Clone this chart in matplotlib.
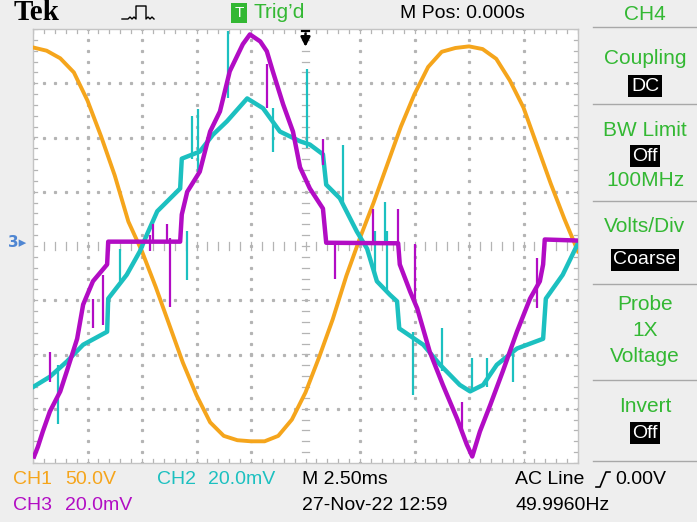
"""
Recreation of a Tektronix scope screenshot: CH1 line voltage with two
current-sense channels (CH2, CH3) at 2.5 ms/div.
"""

import matplotlib

matplotlib.use("Agg")
import matplotlib.pyplot as plt
import numpy as np
from matplotlib.lines import Line2D

W, H = 697, 522

ORANGE = "#f5a51c"
CYAN = "#1cc0c0"
MAGENTA = "#b20cc4"
GREEN = "#33b833"
GRID = "#b4b4b4"

# all trace values in screen divisions (x: 0..10, y: -4..4)
ch1_t = [0.00, 0.25, 0.50, 0.75, 1.00, 1.25, 1.50, 1.75, 2.00, 2.25, 2.50,
         2.75, 3.00, 3.25, 3.50, 3.75, 4.00, 4.25, 4.50, 4.75, 5.00, 5.25,
         5.50, 5.75, 6.00, 6.25, 6.50, 6.75, 7.00, 7.25, 7.50, 7.75, 8.00,
         8.25, 8.50, 8.75, 9.00, 9.25, 9.50, 9.75, 10.00]
ch1_v = [3.66, 3.60, 3.46, 3.20, 2.68, 2.02, 1.30, 0.45, -0.10, -0.75, -1.45,
         -2.15, -2.75, -3.25, -3.50, -3.58, -3.60, -3.60, -3.50, -3.20, -2.70,
         -2.05, -1.35, -0.55, 0.15, 0.80, 1.50, 2.20, 2.80, 3.30, 3.58, 3.65,
         3.68, 3.63, 3.45, 3.05, 2.55, 1.85, 1.15, 0.50, -0.10]

ch2_t = [0.00, 0.31, 0.62, 0.92, 1.36, 1.38, 1.72, 1.96, 2.09, 2.28, 2.70,
         2.73, 3.06, 3.30, 3.56, 3.93, 4.22, 4.53, 4.90, 5.08, 5.32, 5.38,
         5.63, 5.94, 6.13, 6.31, 6.55, 6.68, 6.72, 7.16, 7.47, 7.83, 8.02,
         8.26, 8.51, 8.88, 9.36, 9.41, 9.72, 10.00]
ch2_v = [-2.60, -2.41, -2.13, -1.82, -1.58, -0.97, -0.53, -0.10, 0.21, 0.64,
         1.06, 1.61, 1.74, 2.05, 2.30, 2.72, 2.54, 2.11, 1.93, 1.87, 1.69,
         1.13, 0.88, 0.27, -0.05, -0.65, -0.90, -1.02, -1.52, -1.82, -2.19,
         -2.56, -2.68, -2.56, -2.19, -1.89, -1.71, -0.97, -0.53, 0.05]

ch3_t = [0.02, 0.09, 0.18, 0.31, 0.50, 0.62, 0.81, 0.92, 1.10, 1.36, 1.38,
         2.70, 2.73, 2.83, 3.06, 3.25, 3.43, 3.61, 3.85, 3.98, 4.17, 4.29,
         4.40, 4.59, 4.77, 4.90, 5.08, 5.32, 5.38, 6.70, 6.73, 6.92, 7.05,
         7.28, 7.52, 7.78, 7.96, 8.06, 8.20, 8.39, 8.62, 8.88, 9.12, 9.30,
         9.36, 9.39, 10.00]
ch3_v = [-3.88, -3.70, -3.42, -3.05, -2.68, -2.31, -1.71, -1.08, -0.65, -0.34,
         0.08, 0.08, 0.58, 1.00, 1.37, 2.11, 2.48, 3.22, 3.72, 3.90, 3.77,
         3.59, 3.22, 2.61, 2.11, 1.45, 1.06, 0.69, 0.06, 0.05, -0.34, -0.84,
         -1.15, -1.95, -2.56, -3.18, -3.66, -3.88, -3.42, -2.93, -2.31, -1.58,
         -0.97, -0.65, -0.34, 0.12, 0.10]

# switching spikes: x position, top, bottom (divisions)
ch2_spike_t = [0.46, 1.60, 2.83, 2.92, 3.03, 3.58, 4.40, 5.03, 5.69, 6.28,
               6.46, 6.50, 6.97, 7.50, 8.06, 8.33, 8.81]
ch2_spike_hi = [-2.19, -0.05, 0.27, 2.39, 2.52, 3.96, 2.54, 3.27, 1.87, 0.27,
                0.82, 0.27, -1.58, -1.52, -2.07, -2.07, -1.89]
ch2_spike_lo = [-3.29, -0.65, -0.62, 1.61, 1.37, 2.72, 1.74, 1.80, 0.77, -0.53,
                0.03, -0.84, -2.74, -2.31, -2.68, -2.59, -2.50]

ch3_spike_t = [0.31, 1.10, 1.28, 2.15, 2.20, 2.46, 2.51, 4.29, 5.32, 5.54,
               6.24, 6.70, 7.01, 7.87, 9.25]
ch3_spike_hi = [-1.95, -0.97, -0.53, 0.21, 0.40, 0.40, 0.14, 3.35, 1.98, 0.03,
                0.69, 0.69, 0.03, -2.87, -0.23]
ch3_spike_lo = [-2.50, -1.52, -1.45, -0.10, 0.08, 0.08, -1.12, 2.54, 1.50, -0.60,
                0.03, 0.03, -0.97, -3.42, -1.15]


def px(x, y):
    return x / W, 1 - y / H


def ftext(fig, x, y, s, color, size=14, ha="left", box=False, **kw):
    t = fig.text(*px(x, y), s, color=color, fontsize=size, ha=ha, va="center", **kw)
    if box:
        t.set_bbox(dict(facecolor="black", edgecolor="none", pad=2.0))
    return t


def fline(fig, xs, ys, color, lw=1.0):
    fig.add_artist(Line2D([x / W for x in xs], [1 - y / H for y in ys],
                          color=color, lw=lw, transform=fig.transFigure))


def draw_graticule(ax):
    fine = np.arange(0, 10.001, 0.2)
    fine_y = np.arange(-4, 4.001, 0.2)
    for gx in range(1, 10):
        if gx != 5:
            ax.plot(np.full_like(fine_y, gx), fine_y, ls="none", marker="s",
                    ms=1.3, color=GRID, zorder=1)
    for gy in range(-3, 4):
        if gy != 0:
            ax.plot(fine, np.full_like(fine, gy), ls="none", marker="s",
                    ms=1.3, color=GRID, zorder=1)
    tick = 0.07
    for f in fine:
        ax.plot([f, f], [-tick, tick], color=GRID, lw=0.9, zorder=1)
        ax.plot([f, f], [4, 4 - tick], color=GRID, lw=0.9, zorder=1)
        ax.plot([f, f], [-4, -4 + tick], color=GRID, lw=0.9, zorder=1)
    for f in fine_y:
        ax.plot([5 - tick, 5 + tick], [f, f], color=GRID, lw=0.9, zorder=1)
        ax.plot([0, tick], [f, f], color=GRID, lw=0.9, zorder=1)
        ax.plot([10, 10 - tick], [f, f], color=GRID, lw=0.9, zorder=1)


def main():
    plt.rcParams["font.family"] = ["Liberation Sans", "DejaVu Sans"]
    fig = plt.figure(figsize=(W / 100, H / 100), dpi=100, facecolor="#eeeeee")

    ax = fig.add_axes([33 / W, 1 - 463 / H, 545 / W, 434 / H])
    ax.set_facecolor("white")
    ax.set_xlim(0, 10)
    ax.set_ylim(-4, 4)
    ax.set_xticks([])
    ax.set_yticks([])
    for spine in ax.spines.values():
        spine.set_color("#c4c4c4")
        spine.set_linewidth(1.0)
    draw_graticule(ax)

    ax.plot(ch1_t, ch1_v, color=ORANGE, lw=2.8, zorder=3, solid_joinstyle="round")
    ax.vlines(ch2_spike_t, ch2_spike_lo, ch2_spike_hi, color=CYAN, lw=1.6, zorder=4)
    ax.plot(ch2_t, ch2_v, color=CYAN, lw=3.2, zorder=4, solid_joinstyle="round")
    ax.vlines(ch3_spike_t, ch3_spike_lo, ch3_spike_hi, color=MAGENTA, lw=1.6, zorder=5)
    ax.plot(ch3_t, ch3_v, color=MAGENTA, lw=3.2, zorder=5, solid_joinstyle="round")

    # trigger position marker
    ax.plot([4.93, 5.07], [3.97, 3.97], color="black", lw=1.6, zorder=6)
    ax.annotate("", xy=(5.0, 3.62), xytext=(5.0, 3.97),
                arrowprops=dict(arrowstyle="-|>", color="black", lw=1.8,
                                mutation_scale=14), zorder=6)

    # header
    ftext(fig, 14, 13, "Tek", "black", size=21, family="Liberation Serif",
          weight="bold")
    fline(fig, [122, 128, 130, 132, 134, 136, 136, 146, 146, 148, 150, 152, 154],
          [19, 19, 17, 19, 17, 19, 6, 6, 19, 17, 19, 17, 19], "black", lw=1.0)
    ftext(fig, 239, 13, "T", "white", size=11, ha="center",
          bbox=dict(facecolor=GREEN, edgecolor="none", pad=2.2))
    ftext(fig, 253, 13, "Trig\u2019d", GREEN, size=15)
    ftext(fig, 400, 13, "M Pos: 0.000s", "black")

    # side menu
    cx = 645
    ftext(fig, cx, 14, "CH4", GREEN, ha="center", size=15)
    for sy in [27, 104, 201, 284, 380, 461]:
        fline(fig, [593, 697], [sy, sy], "#a8a8a8", lw=1.0)
    ftext(fig, cx, 58, "Coupling", GREEN, ha="center", size=15)
    ftext(fig, cx, 86, "DC", "white", ha="center", box=True)
    ftext(fig, cx, 131, "BW Limit", GREEN, ha="center", size=15)
    ftext(fig, cx, 156, "Off", "white", ha="center", box=True)
    ftext(fig, cx, 181, "100MHz", GREEN, ha="center", size=15)
    ftext(fig, cx, 226, "Volts/Div", GREEN, ha="center", size=15)
    ftext(fig, cx, 260, "Coarse", "white", ha="center", box=True)
    ftext(fig, cx, 305, "Probe", GREEN, ha="center", size=15)
    ftext(fig, cx, 331, "1X", GREEN, ha="center", size=15)
    ftext(fig, cx, 357, "Voltage", GREEN, ha="center", size=15)
    ftext(fig, cx, 407, "Invert", GREEN, ha="center", size=15)
    ftext(fig, cx, 433, "Off", "white", ha="center", box=True)

    # ground marker
    ftext(fig, 8, 243, "3\u25b8", "#4f86d2", size=11, weight="bold",
          family="DejaVu Sans")

    # footer
    ftext(fig, 13, 479, "CH1", ORANGE)
    ftext(fig, 65, 479, "50.0V", ORANGE)
    ftext(fig, 157, 479, "CH2", CYAN)
    ftext(fig, 208, 479, "20.0mV", CYAN)
    ftext(fig, 302, 479, "M 2.50ms", "black")
    ftext(fig, 515, 479, "AC Line", "black")
    fline(fig, [596, 600, 606, 610], [487, 487, 472, 472], "black", lw=1.2)
    ftext(fig, 615, 479, "0.00V", "black")
    ftext(fig, 13, 506, "CH3", MAGENTA)
    ftext(fig, 65, 506, "20.0mV", MAGENTA)
    ftext(fig, 302, 506, "27-Nov-22 12:59", "black")
    ftext(fig, 515, 506, "49.9960Hz", "black")

    fig.savefig("out.png", dpi=100, facecolor=fig.get_facecolor())
    plt.close(fig)


if __name__ == "__main__":
    main()
